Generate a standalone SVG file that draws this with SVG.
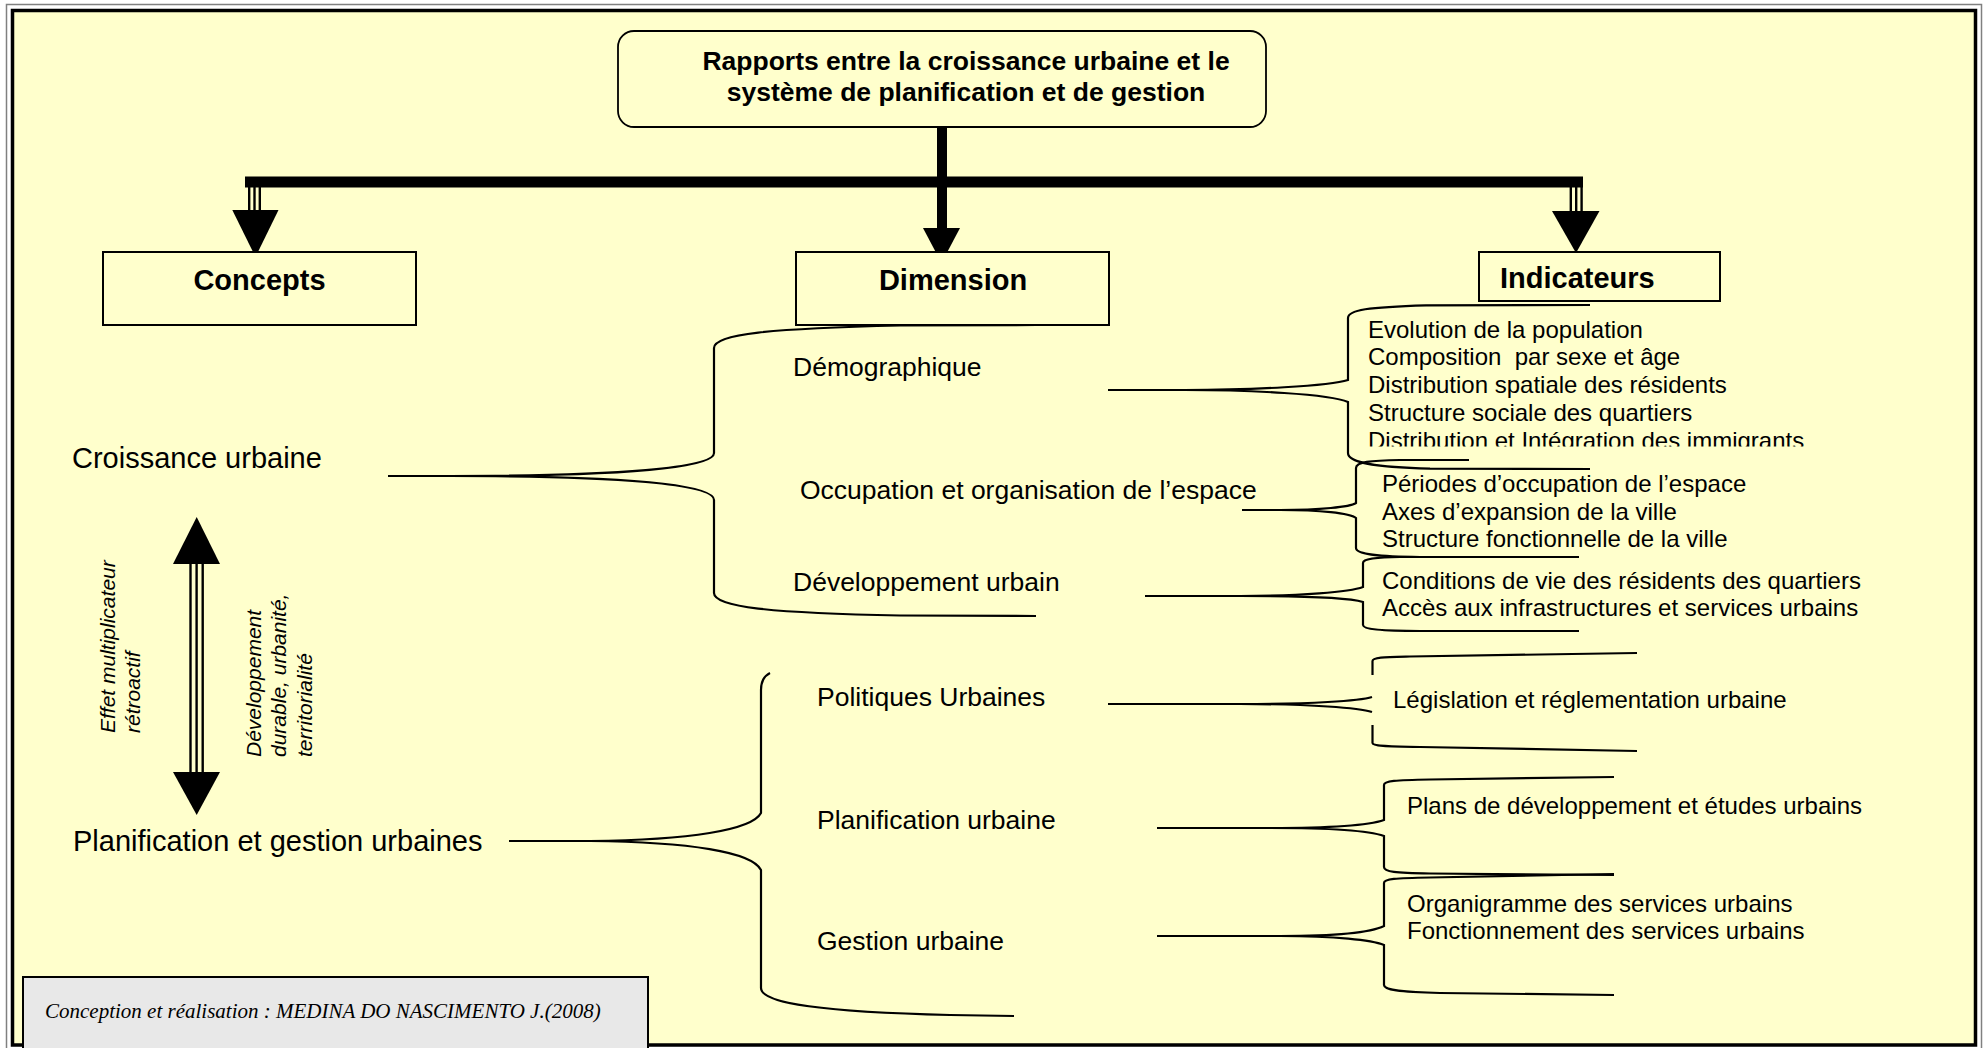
<svg xmlns="http://www.w3.org/2000/svg" width="1988" height="1048" viewBox="0 0 1988 1048">
<style>
.t{font-family:"Liberation Sans",Arial,sans-serif;fill:#000}
.title{font-weight:bold;font-size:26.5px}
.hdr{font-weight:bold;font-size:29px}
.c1{font-size:29px}
.c2{font-size:26.5px}
.c3{font-size:24px}
.it{font-style:italic;font-size:21px}
.foot{font-family:"Liberation Serif","Times New Roman",serif;font-style:italic;font-size:21px;fill:#000}
.box{fill:#FFFFCC;stroke:#000;stroke-width:2}
.br{fill:none;stroke:#000;stroke-width:2.2}
.sh{stroke:#000;stroke-width:2.4}
</style>
<defs>
<clipPath id="clipImm"><rect x="1300" y="420" width="600" height="26.5"/></clipPath>
</defs>
<rect x="0" y="0" width="1988" height="1048" fill="#FFFFFF"/>
<rect x="6.5" y="4.5" width="1975" height="1052" fill="#FFFFFF" stroke="#808080" stroke-width="1.5"/>
<rect x="12.5" y="10.5" width="1963" height="1034.5" fill="#FFFFCC" stroke="#000" stroke-width="3.5"/>

<g id="connectors">
  <rect x="937" y="127" width="10" height="101" fill="#000"/>
  <rect x="245" y="176.5" width="1338" height="11" fill="#000"/>
  <line class="sh" x1="249.2" y1="187" x2="249.2" y2="211"/>
  <line class="sh" x1="254.5" y1="187" x2="254.5" y2="211"/>
  <line class="sh" x1="259.8" y1="187" x2="259.8" y2="211"/>
  <polygon points="232.3,210 278.5,210 255.5,257" fill="#000"/>
  <polygon points="923,228 960,228 941.5,263" fill="#000"/>
  <line class="sh" x1="1570.8" y1="187" x2="1570.8" y2="211"/>
  <line class="sh" x1="1576.2" y1="187" x2="1576.2" y2="211"/>
  <line class="sh" x1="1581.6" y1="187" x2="1581.6" y2="211"/>
  <polygon points="1552,211 1599.5,211 1576,253" fill="#000"/>
  <line class="sh" x1="190.5" y1="563" x2="190.5" y2="773"/>
  <line class="sh" x1="196.6" y1="563" x2="196.6" y2="773"/>
  <line class="sh" x1="202.7" y1="563" x2="202.7" y2="773"/>
  <polygon points="173,564 220,564 196.7,517" fill="#000"/>
  <polygon points="173,772 220,772 196.7,815" fill="#000"/>
  <path class="br" d="M388 476 L450 476 C620 476 714 468 714 453 L714 348 C714 334 770 328.5 900 325.5 L1036 325"/>
  <path class="br" d="M450 476 C620 476 714 484 714 500 L714 593 C714 607 770 613 900 615.5 L1036 616"/>
  <path class="br" d="M1108 390 L1185 390 C1250 390 1330 386 1348 380 L1348 318 C1348 310 1368 307 1426 305.3 L1590 305"/>
  <path class="br" d="M1185 390 C1250 390 1330 394 1348 402 L1348 453 C1348 462 1370 467 1430 468.6 L1590 469"/>
  <path class="br" d="M1242 510 L1280 510 C1320 510 1350 507 1356 503 L1356 468 C1356 462 1370 460.5 1400 460 L1469 460"/>
  <path class="br" d="M1280 510 C1320 510 1350 513 1356 518 L1356 548 C1356 554 1375 556.5 1420 557 L1579 557"/>
  <path class="br" d="M1145 596 L1240 596 C1300 596 1350 592 1363 587 L1363 563 C1363 559 1375 557.5 1400 557 L1469 557"/>
  <path class="br" d="M1240 596 C1300 596 1350 598 1363 602 L1363 625 C1363 629 1380 631 1420 631 L1579 631"/>
  <path class="br" d="M509 841 L590 841 C690 840 752 830 761 813 L761 690 C761 681 764 676 770 673"/>
  <path class="br" d="M590 841 C690 842 752 852 761 870 L761 988 C761 1003 820 1012 950 1015 L1014 1016"/>
  <path class="br" d="M1108 704 L1240 704 C1310 704 1360 701 1372 697"/>
  <path class="br" d="M1240 704 C1310 704 1360 708 1372 712"/>
  <path class="br" d="M1372.5 675 L1372.5 661 C1372.5 657 1385 657 1410 656.5 L1637 653"/>
  <path class="br" d="M1372.5 725 L1372.5 743 C1372.5 746 1385 746.5 1420 747 L1637 751"/>
  <path class="br" d="M1157 828 L1270 828 C1330 828 1370 825 1384 820 L1384 785 C1384 781 1395 780 1430 779.5 L1614 777"/>
  <path class="br" d="M1270 828 C1330 828 1370 831 1384 836 L1384 867 C1384 872 1395 873 1430 873.5 L1614 875"/>
  <path class="br" d="M1157 936 L1280 936 C1335 936 1372 932 1384 926 L1384 883 C1384 879 1395 878 1430 877.5 L1614 874"/>
  <path class="br" d="M1280 936 C1335 936 1372 940 1384 945 L1384 985 C1384 990 1398 992 1440 993 L1614 995"/>
</g>

<g id="title">
  <rect x="618" y="31" width="648" height="96" rx="16" ry="16" fill="#FFFFCC" stroke="#000" stroke-width="1.8"/>
  <text class="t title" x="966" y="70" text-anchor="middle">Rapports entre la croissance urbaine et le</text>
  <text class="t title" x="966" y="101" text-anchor="middle">système de planification et de gestion</text>
</g>
<g id="concepts">
  <rect class="box" x="103" y="252" width="313" height="73"/>
  <text class="t hdr" x="259.5" y="290" text-anchor="middle">Concepts</text>
</g>
<g id="dimension">
  <rect class="box" x="796" y="252" width="313" height="73"/>
  <text class="t hdr" x="953" y="290" text-anchor="middle">Dimension</text>
</g>
<g id="indicateurs">
  <rect class="box" x="1479" y="252" width="241" height="49"/>
  <text class="t hdr" x="1500" y="288">Indicateurs</text>
</g>

<g id="croissance"><text class="t c1" x="72" y="468">Croissance urbaine</text></g>
<g id="planification-gestion"><text class="t c1" x="73" y="851">Planification et gestion urbaines</text></g>

<g id="effet">
  <text class="t it" transform="translate(114.5,733) rotate(-90)">Effet multiplicateur</text>
  <text class="t it" transform="translate(140,733) rotate(-90)">rétroactif</text>
</g>
<g id="developpement-durable">
  <text class="t it" transform="translate(260.5,757) rotate(-90)">Développement</text>
  <text class="t it" transform="translate(286,757) rotate(-90)">durable, urbanité,</text>
  <text class="t it" transform="translate(311.5,757) rotate(-90)">territorialité</text>
</g>

<g id="demographique"><text class="t c2" x="793" y="376">Démographique</text></g>
<g id="occupation"><text class="t c2" x="800" y="499">Occupation et organisation de l’espace</text></g>
<g id="dev-urbain"><text class="t c2" x="793" y="591">Développement urbain</text></g>
<g id="politiques"><text class="t c2" x="817" y="706">Politiques Urbaines</text></g>
<g id="planification-urbaine"><text class="t c2" x="817" y="829">Planification urbaine</text></g>
<g id="gestion-urbaine"><text class="t c2" x="817" y="950">Gestion urbaine</text></g>

<g id="ind-demo">
  <text class="t c3" x="1368" y="337.5">Evolution de la population</text>
  <text class="t c3" x="1368" y="365" xml:space="preserve">Composition  par sexe et âge</text>
  <text class="t c3" x="1368" y="392.7">Distribution spatiale des résidents</text>
  <text class="t c3" x="1368" y="420.7">Structure sociale des quartiers</text>
  <text class="t c3" x="1368" y="448.5" clip-path="url(#clipImm)">Distribution et Intégration des immigrants</text>
</g>
<g id="ind-occupation">
  <text class="t c3" x="1382" y="492">Périodes d’occupation de l’espace</text>
  <text class="t c3" x="1382" y="519.5">Axes d’expansion de la ville</text>
  <text class="t c3" x="1382" y="547">Structure fonctionnelle de la ville</text>
</g>
<g id="ind-dev">
  <text class="t c3" x="1382" y="588.5">Conditions de vie des résidents des quartiers</text>
  <text class="t c3" x="1382" y="615.5">Accès aux infrastructures et services urbains</text>
</g>
<g id="ind-politiques"><text class="t c3" x="1393" y="708">Législation et réglementation urbaine</text></g>
<g id="ind-planification"><text class="t c3" x="1407" y="814">Plans de développement et études urbains</text></g>
<g id="ind-gestion">
  <text class="t c3" x="1407" y="912">Organigramme des services urbains</text>
  <text class="t c3" x="1407" y="938.5">Fonctionnement des services urbains</text>
</g>

<g id="footer">
  <rect x="23" y="977" width="625" height="72" fill="#E8E8E8" stroke="#000" stroke-width="2"/>
  <text class="foot" x="45" y="1018">Conception et réalisation : MEDINA DO NASCIMENTO J.(2008)</text>
</g>
</svg>
